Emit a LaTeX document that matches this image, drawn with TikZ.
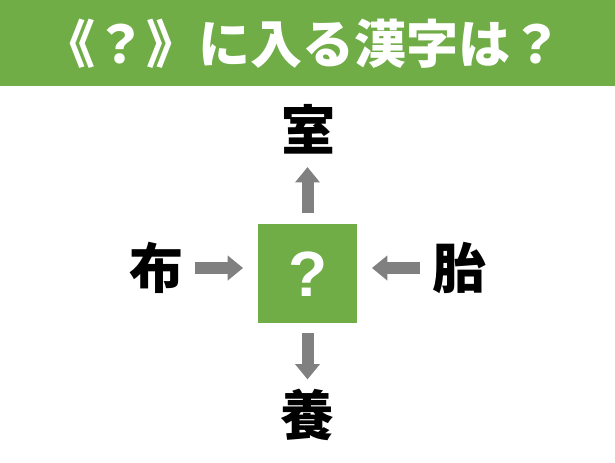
\documentclass[tikz,border=0pt]{standalone}
\usepackage{fontspec}
\usetikzlibrary{arrows.meta}
\newfontfamily\jp{Noto Sans CJK JP}
\newfontfamily\qfont{Liberation Sans}
\definecolor{bannergreen}{HTML}{70AD47}
\definecolor{arrowgray}{HTML}{808080}
\tikzset{
  kanji/.style={inner sep=0pt, minimum size=42pt, font=\jp\bfseries\fontsize{40.5pt}{48pt}\selectfont, text=black},
  arr/.style={draw=arrowgray, line width=9pt, -{Triangle[width=18pt,length=11.5pt]}, arrowgray},
}
\begin{document}
\begin{tikzpicture}[x=0.75pt,y=-0.75pt]
\useasboundingbox (0,0) rectangle (615,462);
\fill[white] (0,0) rectangle (615,462);
\node[fill=bannergreen, minimum width=461.25pt, minimum height=64.5pt, inner sep=0pt, anchor=north west] (banner) at (0,0) {};
\node[text=white, inner sep=0pt, font=\jp\bfseries\fontsize{39pt}{45pt}\selectfont] (title) at (303,44) {《？》に入る漢字は？};
\node[fill=bannergreen, minimum size=74.25pt, inner sep=0pt] (q) at (307.5,273.5) {};
\node[text=white, inner sep=0pt, font=\qfont\bfseries\fontsize{48pt}{52pt}\selectfont] (qm) at (308.5,274) {?};
\node[kanji] (shi) at (308,129.5) {室};
\node[kanji] (yo) at (307.5,415) {養};
\node[kanji] (fu) at (156,268) {布};
\node[kanji] (tai) at (459,268) {胎};
\draw[arr, shorten <=7.9pt, shorten >=7pt] (q.north) -- (q.north |- shi.south);
\draw[arr, shorten <=7.3pt, shorten >=5.5pt] (q.south) -- (q.south |- yo.north);
\draw[arr, shorten <=8.2pt, shorten >=11pt] (fu.east) -- (fu.east -| q.west);
\draw[arr, shorten <=8.2pt, shorten >=11pt] (tai.west) -- (tai.west -| q.east);
\end{tikzpicture}
\end{document}
